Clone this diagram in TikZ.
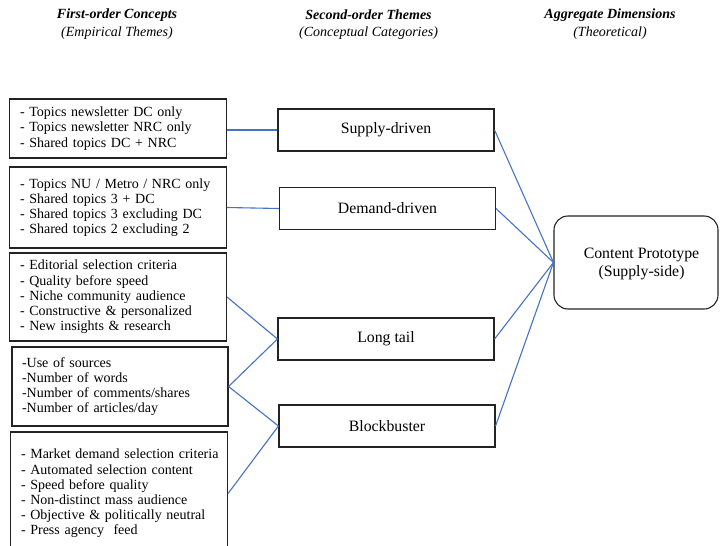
\documentclass[tikz,border=0pt]{standalone}
\usepackage{fontspec}
\setmainfont{Liberation Serif}
\definecolor{linkblue}{RGB}{68,114,196}
\definecolor{boxline}{RGB}{35,35,35}
\begin{document}
\begin{tikzpicture}[x=1pt,y=-1pt,
  header/.style={font=\fontsize{14}{16}\selectfont\bfseries\itshape, inner sep=0pt},
  subheader/.style={font=\fontsize{14}{16}\selectfont\itshape, inner sep=0pt},
  concept/.style={draw=boxline, line width=1.1pt, inner xsep=10.5pt, inner ysep=0pt,
    text width=196pt, align=left, font=\fontsize{14}{15.2}\selectfont},
  theme/.style={draw=boxline, line width=1.1pt, minimum width=216pt, minimum height=42pt,
    inner sep=0pt, font=\fontsize{15.8}{18}\selectfont},
  dimension/.style={draw=boxline, line width=1.1pt, rounded corners=14pt,
    minimum width=164pt, minimum height=93pt, inner sep=0pt},
  link/.style={draw=linkblue, line width=1.1pt}
]
\useasboundingbox (0,0) rectangle (720,546);

% column headings
\node[header]    (h1a) at (117,15) {First-order Concepts};
\node[subheader] (h1b) at (117,33) {(Empirical Themes)};
\node[header]    (h2a) at (368.5,15) {Second-order Themes};
\node[subheader] (h2b) at (368.5,33) {(Conceptual Categories)};
\node[header]    (h3a) at (610,15) {Aggregate Dimensions};
\node[subheader] (h3b) at (610,33) {(Theoretical)};

% first-order concepts
\node[concept, minimum height=59pt] (c1) at (118,128.5)
  {- Topics newsletter DC only\\- Topics newsletter NRC only\\- Shared topics DC + NRC};
\node[concept, minimum height=81pt] (c2) at (118,207.5)
  {- Topics NU / Metro / NRC only\\- Shared topics 3 + DC\\- Shared topics 3 excluding DC\\- Shared topics 2 excluding 2};
\node[concept, minimum height=88pt] (c3) at (118,297)
  {- Editorial selection criteria\\- Quality before speed\\- Niche community audience\\- Constructive \& personalized\\- New insights \& research};
\node[concept, minimum height=79pt, inner xsep=10pt] (c4) at (120,386.5)
  {-Use of sources\\-Number of words\\-Number of comments/shares\\-Number of articles/day};
\node[concept, minimum height=123pt] (c5) at (119,493.5)
  {\mbox{- Market demand selection criteria}\\- Automated selection content\\- Speed before quality\\- Non-distinct mass audience\\- Objective \& politically neutral\\- Press agency\ \ feed};

% second-order themes
\node[theme] (sd) at (386,130)   {Supply-driven};
\node[theme] (dd) at (387.5,208.5) {Demand-driven};
\node[theme] (lt) at (386,339)   {Long tail};
\node[theme] (bb) at (387,426)   {Blockbuster};

% aggregate dimension
\node[dimension] (cp) at (636,262.5) {};
\node[align=center, inner sep=0pt, font=\fontsize{15.8}{18}\selectfont] (cpt) at (641.5,264)
  {Content Prototype\\(Supply-side)};

% connectors
\draw[link] (c1.east |- sd.west) -- (sd.west);
\draw[link] (c2.east) -- (dd.west);
\draw[link] (c3.east) -- (lt.west);
\draw[link] (c4.east) -- (lt.west);
\draw[link] (c4.east) -- (bb.west);
\draw[link] (c5.east) -- (bb.west);
\draw[link] (sd.east) -- (cp.west);
\draw[link] (dd.east) -- (cp.west);
\draw[link] (lt.east) -- (cp.west);
\draw[link] (bb.east) -- (cp.west);
\end{tikzpicture}
\end{document}
